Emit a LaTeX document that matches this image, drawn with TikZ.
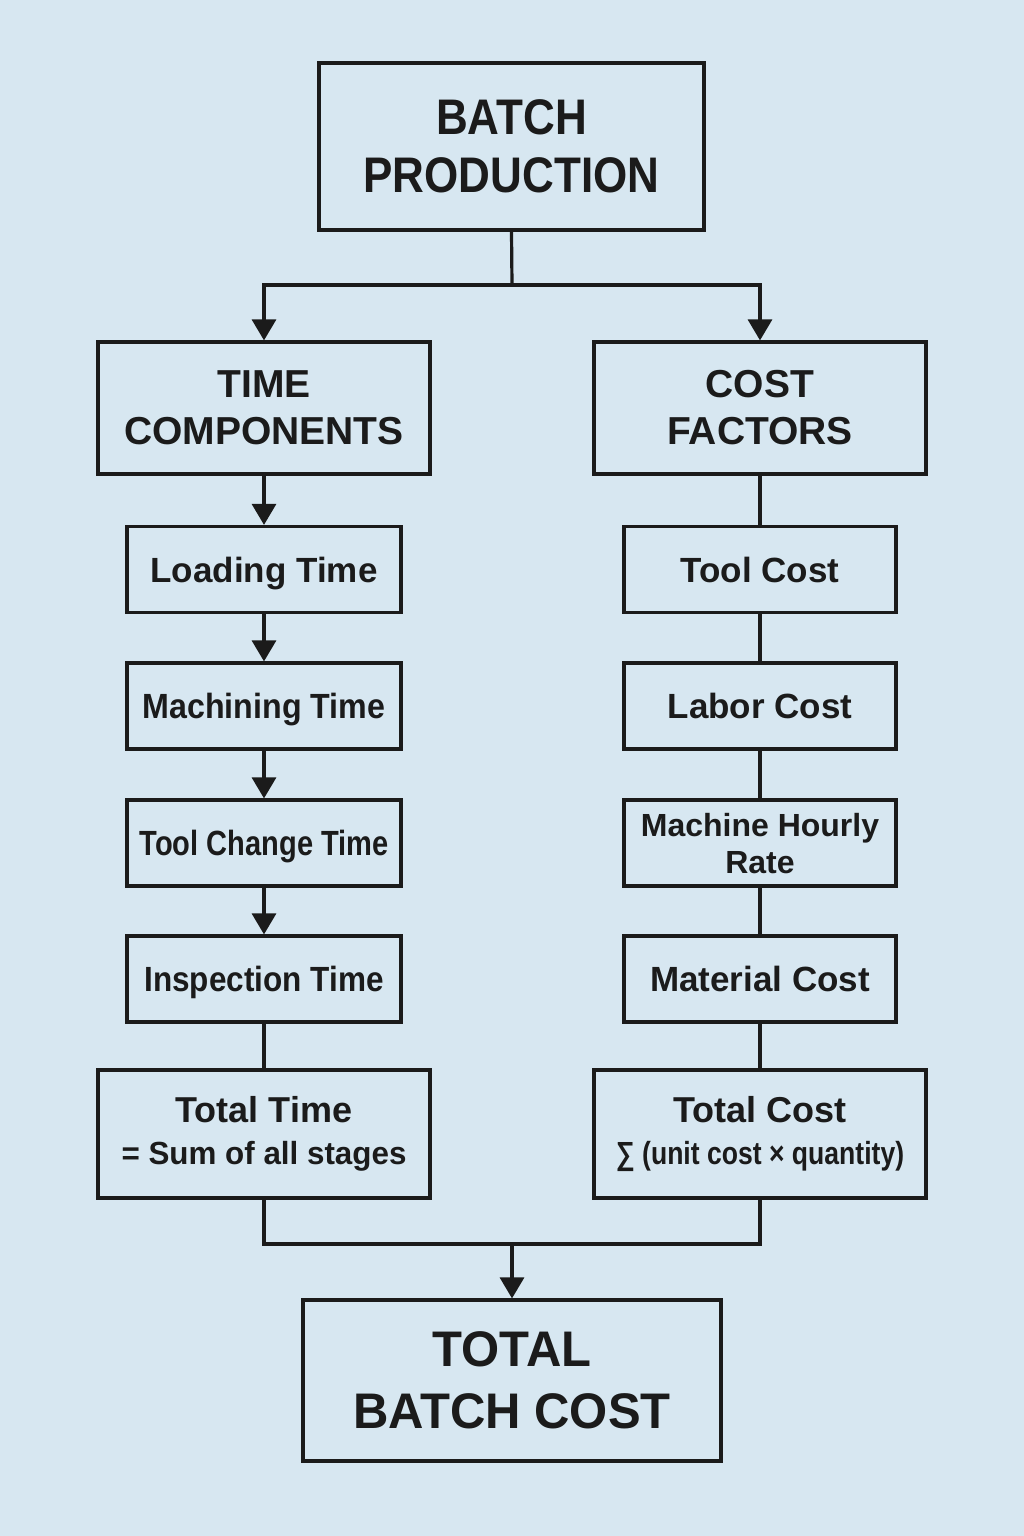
\documentclass[tikz,border=0pt]{standalone}
\usepackage{fontspec}
\setmainfont{Liberation Sans}
\usepackage{graphicx}
\usetikzlibrary{positioning,arrows.meta}
\definecolor{bgblue}{HTML}{D7E7F1}
\definecolor{ink}{HTML}{1B1B1B}
\tikzset{>={Triangle[width=24pt,length=21pt]}}
\tikzset{
  box/.style={draw=ink,line width=3.2pt,fill=bgblue,text=ink,inner sep=0pt,align=center},
  head/.style={box,font=\bfseries\fontsize{50}{60}\selectfont},
  group/.style={box,minimum width=332pt,minimum height=132pt,font=\bfseries\fontsize{39}{47}\selectfont},
  stage/.style={box,minimum width=274pt,minimum height=86pt,text depth=0pt,font=\bfseries\fontsize{35}{40}\selectfont},
  sumbox/.style={box,minimum width=332pt,minimum height=128pt,font=\bfseries\fontsize{36}{42}\selectfont},
  link/.style={draw=ink,line width=3.2pt}
}
\newcommand{\squeeze}[2]{\scalebox{#1}[1]{#2}}

\begin{document}
\begin{tikzpicture}[x=1pt,y=-1pt]
\fill[bgblue] (0,0) rectangle (1024,1536);
\useasboundingbox (0,0) rectangle (1024,1536);

\node[head,minimum width=385pt,minimum height=167pt] (batch) at (511.5,146.5)
  {\squeeze{0.88}{BATCH}\\[-2pt]\squeeze{0.88}{PRODUCTION}};

\node[group] (time) at (264,408) {TIME\\COMPONENTS};
\node[group] (cost) at (760,408) {COST\\FACTORS};

% time side
\node[stage] (load) at (264,569.5) {Loading Time};
\node[stage] (mach) at (264,706) {\squeeze{0.92}{Machining Time}};
\node[stage] (tchg) at (264,843) {\squeeze{0.83}{Tool Change Time}};
\node[stage] (insp) at (264,979) {\squeeze{0.9}{Inspection Time}};
\node[sumbox] (ttime) at (264,1134)
  {Total Time\\{\fontsize{32}{38}\selectfont\squeeze{0.98}{= Sum of all stages}}};

% cost side
\node[stage,minimum width=272pt] (tool) at (760,569.5) {Tool Cost};
\node[stage,minimum width=272pt] (labor) at (760,706) {Labor Cost};
\node[stage,minimum width=272pt,font=\bfseries\fontsize{32}{37}\selectfont] (mhr) at (760,843)
  {Machine Hourly\\Rate};
\node[stage,minimum width=272pt] (mat) at (760,979) {Material Cost};
\node[sumbox] (tcost) at (760,1134)
  {Total Cost\\{\fontsize{32}{38}\selectfont\squeeze{0.83}{∑ (unit cost × quantity)}}};

\node[head,minimum width=418pt,minimum height=161pt] (total) at (512,1380.5)
  {\squeeze{0.98}{TOTAL}\\[2pt]\squeeze{0.98}{BATCH COST}};

\coordinate (split) at (512,285);
\coordinate (join) at (512,1244);

\draw[link] (batch.south) -- (split);
\draw[link,->] (split) -| (time.north);
\draw[link,->] (split) -| (cost.north);

\draw[link,->] (time) -- (load);
\draw[link,->] (load) -- (mach);
\draw[link,->] (mach) -- (tchg);
\draw[link,->] (tchg) -- (insp);
\draw[link] (insp) -- (ttime);

\draw[link] (cost) -- (tool);
\draw[link] (tool) -- (labor);
\draw[link] (labor) -- (mhr);
\draw[link] (mhr) -- (mat);
\draw[link] (mat) -- (tcost);

\draw[link] (ttime.south) |- (join) -| (tcost.south);
\draw[link,->] (join) -- (total.north);
\end{tikzpicture}
\end{document}
